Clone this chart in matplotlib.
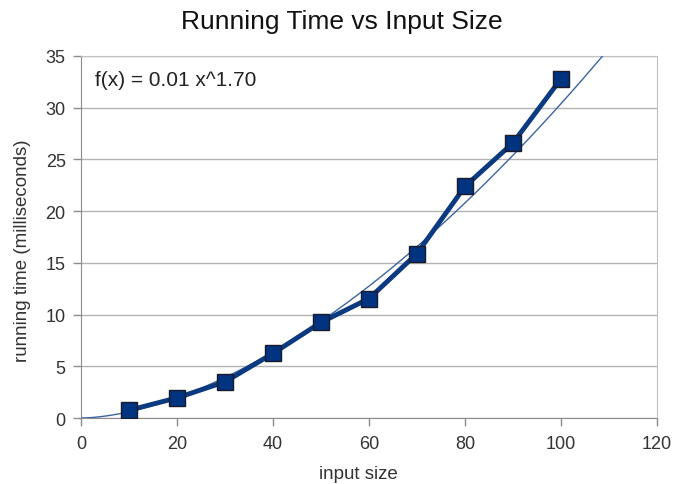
import numpy as np
import matplotlib.pyplot as plt

plt.rcParams['font.family'] = ['Liberation Sans', 'DejaVu Sans']

# measured data
input_size = [10, 20, 30, 40, 50, 60, 70, 80, 90, 100]
running_time = [0.75, 1.95, 3.5, 6.25, 9.25, 11.55, 15.9, 22.4, 26.6, 32.8]

# power trend line shown in the chart
fit_coef = 0.0121
fit_exp = 1.70
fit_label = 'f(x) = 0.01 x^1.70'

x_ticks = [0, 20, 40, 60, 80, 100, 120]
y_ticks = [0, 5, 10, 15, 20, 25, 30, 35]


fig = plt.figure(figsize=(6.83, 4.85), dpi=100)
ax = fig.add_axes([0.1186, 0.136, 0.8434, 0.7465])

xs = np.linspace(0, 120, 400)
ax.plot(xs, fit_coef * xs ** fit_exp, color='#3c64a0', linewidth=1.0, zorder=3)
ax.plot(input_size, running_time, color='#0b3a80', linewidth=3.5,
        marker='s', markersize=12, markerfacecolor='#003380',
        markeredgecolor='#1a1a2a', markeredgewidth=1.0, zorder=4)

ax.set_xlim(0, 120)
ax.set_ylim(0, 35)
ax.set_xticks(x_ticks)
ax.set_yticks(y_ticks)
ax.yaxis.grid(True, color='#b3b3b3', linewidth=1.0)
ax.set_axisbelow(True)

for side in ['left', 'bottom']:
    ax.spines[side].set_color('#8c8c8c')
for side in ['right', 'top']:
    ax.spines[side].set_color('#c0c0c0')

ax.tick_params(axis='both', colors='#8c8c8c', labelcolor='#333333',
               labelsize=13, length=6, width=1)
ax.tick_params(axis='x', pad=6)
ax.tick_params(axis='y', pad=5)

ax.set_xlabel('input size', fontsize=13.5, color='#333333')
ax.set_ylabel('running time (milliseconds)', fontsize=13.5, color='#333333')
ax.xaxis.set_label_coords(0.481, -0.13)
ax.yaxis.set_label_coords(-0.087, 0.464)
fig.suptitle('Running Time vs Input Size', fontsize=19, y=0.98, color='#111111')

ax.text(0.025, 0.96, fit_label, transform=ax.transAxes, fontsize=15,
        va='top', ha='left', color='#222222')

fig.savefig('out.png', dpi=100)
